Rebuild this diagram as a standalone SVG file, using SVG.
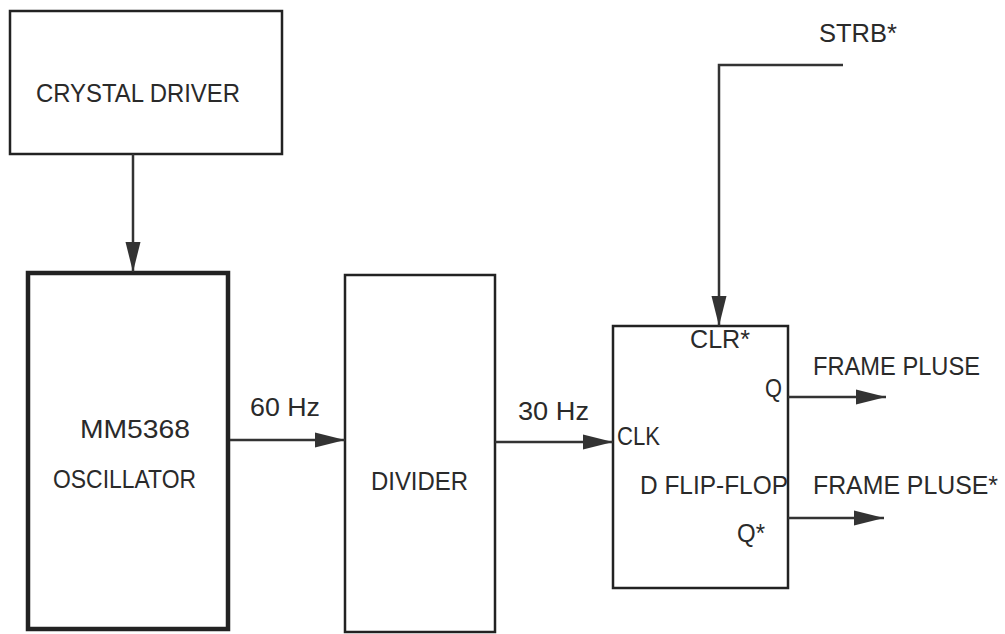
<svg xmlns="http://www.w3.org/2000/svg" width="1005" height="634" viewBox="0 0 1005 634">
<defs>
<style>
.box{fill:none;stroke:#222;stroke-width:2.5}
.thick{fill:none;stroke:#222;stroke-width:4.5}
.wire{fill:none;stroke:#333;stroke-width:2.5}
text{font-family:"Liberation Sans","DejaVu Sans",sans-serif;font-size:25px;fill:#2a2a2a}
</style>
<marker id="arr" markerUnits="userSpaceOnUse" markerWidth="32" markerHeight="18" refX="30" refY="9" orient="auto">
<path d="M0,1.5 L30,9 L0,16.5 z" fill="#333"/>
</marker>
</defs>
<rect width="1005" height="634" fill="#fff"/>
<g id="crystal">
<rect class="box" x="10" y="11" width="272" height="143"/>
<text x="36" y="102" textLength="204" lengthAdjust="spacingAndGlyphs">CRYSTAL DRIVER</text>
</g>
<g id="oscillator">
<rect class="thick" x="28" y="273" width="200" height="356"/>
<text x="80" y="438" textLength="110" lengthAdjust="spacingAndGlyphs">MM5368</text>
<text x="53" y="488" textLength="143" lengthAdjust="spacingAndGlyphs">OSCILLATOR</text>
</g>
<g id="divider">
<rect class="box" x="345" y="275" width="150" height="357"/>
<text x="371" y="490" textLength="97" lengthAdjust="spacingAndGlyphs">DIVIDER</text>
</g>
<g id="flipflop">
<rect class="box" x="613" y="326" width="175" height="262"/>
<text x="690" y="348" textLength="60" lengthAdjust="spacingAndGlyphs">CLR*</text>
<text x="765" y="397" textLength="17" lengthAdjust="spacingAndGlyphs">Q</text>
<text x="617" y="445" textLength="43" lengthAdjust="spacingAndGlyphs">CLK</text>
<text x="640" y="494" textLength="148" lengthAdjust="spacingAndGlyphs">D FLIP-FLOP</text>
<text x="737" y="542" textLength="28" lengthAdjust="spacingAndGlyphs">Q*</text>
</g>
<g id="connectors">
<line class="wire" x1="133" y1="154" x2="133" y2="272" marker-end="url(#arr)"/>
<line class="wire" x1="230" y1="440" x2="345" y2="440" marker-end="url(#arr)"/>
<line class="wire" x1="495" y1="442" x2="613" y2="442" marker-end="url(#arr)"/>
<polyline class="wire" points="843,65 719,65 719,326" marker-end="url(#arr)"/>
<line class="wire" x1="788" y1="397" x2="886" y2="397" marker-end="url(#arr)"/>
<line class="wire" x1="788" y1="518" x2="884" y2="518" marker-end="url(#arr)"/>
</g>
<g id="labels">
<text x="250" y="416" textLength="70" lengthAdjust="spacingAndGlyphs">60 Hz</text>
<text x="518" y="420" textLength="71" lengthAdjust="spacingAndGlyphs">30 Hz</text>
<text x="819" y="42" textLength="78" lengthAdjust="spacingAndGlyphs">STRB*</text>
<text x="813" y="375" textLength="167" lengthAdjust="spacingAndGlyphs">FRAME PLUSE</text>
<text x="813" y="494" textLength="185" lengthAdjust="spacingAndGlyphs">FRAME PLUSE*</text>
</g>
</svg>
